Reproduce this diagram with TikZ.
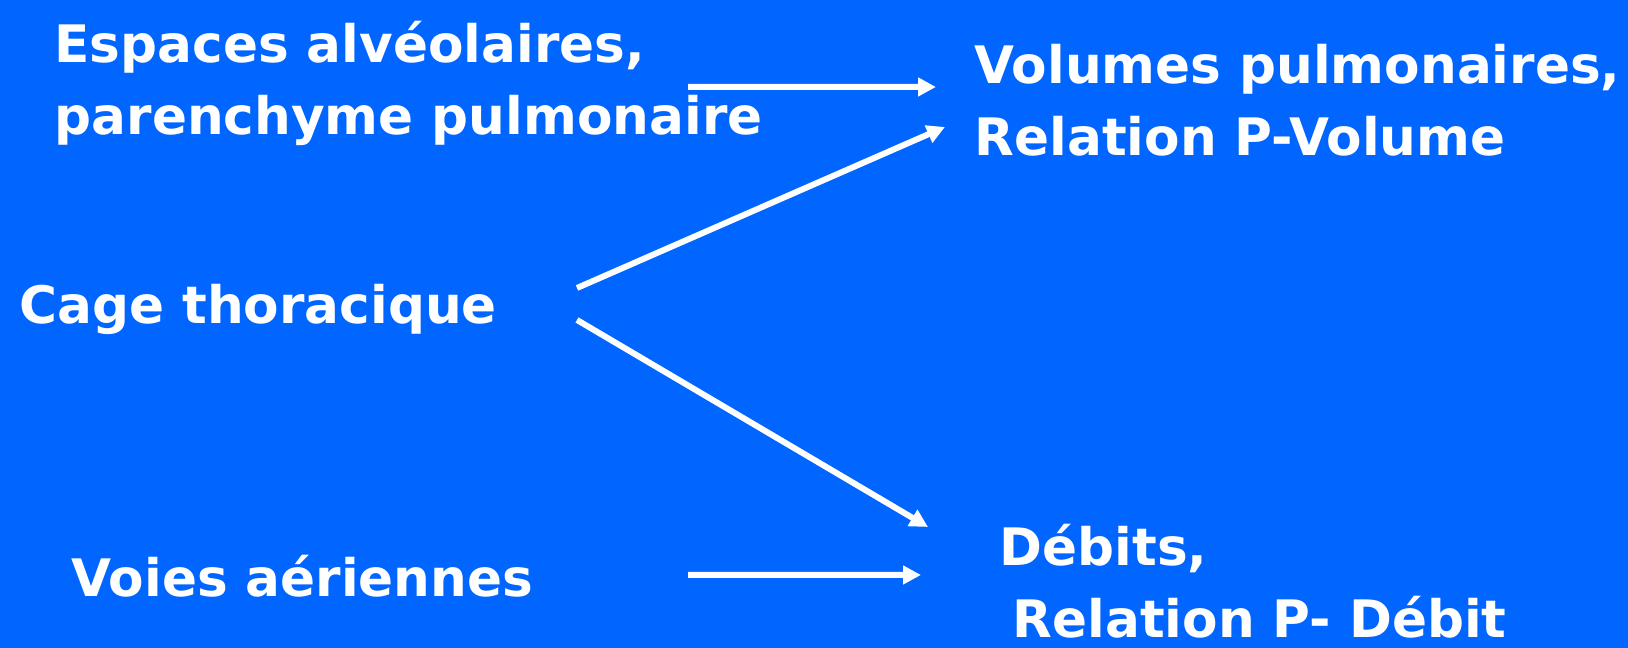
\documentclass[tikz,border=0pt]{standalone}
\usepackage{fontspec}
\setmainfont{DejaVu Sans}
\usepackage{tikz}
\usetikzlibrary{calc,arrows.meta}
\definecolor{slideblue}{RGB}{0,102,255}
\begin{document}
\begin{tikzpicture}[
  lbl/.style={anchor=base west,inner sep=0pt,text=white,align=left,
    font=\fontsize{14.7}{20.7}\selectfont\bfseries},
  arr/.style={white,line width=1.7pt,-{Triangle[length=0.18cm,width=0.18cm]}}]
 \fill[slideblue] (0,0) rectangle (16.28,6.48);
 \useasboundingbox (0,0) rectangle (16.28,6.48);

 \node[lbl] (alv) at (0.54,5.13) {Espaces alvéolaires,\\parenchyme pulmonaire};
 \node[lbl] (vol) at (9.74,4.92) {Volumes pulmonaires,\\Relation P-Volume};
 \node[lbl] (cage) at (0.19,3.24) {Cage thoracique};
 \node[lbl] (voies) at (0.71,0.51) {Voies aériennes};
 \node[lbl] (deb) at (9.99,0.10) {Débits,\\\hspace*{0.13cm}Relation P- Débit};

 \path[arr] ($(alv.base west)+(6.34,0.48)$) edge ($(vol.base west)+(-0.38,0.69)$)
            ($(cage.base west)+(5.58,0.36)$) edge ($(vol.base west)+(-0.29,0.29)$)
            ($(cage.base west)+(5.58,0.04)$) edge ($(deb.base west)+(-0.71,1.11)$)
            ($(voies.base west)+(6.17,0.22)$) edge ($(deb.base west)+(-0.78,0.63)$);
\end{tikzpicture}
\end{document}
